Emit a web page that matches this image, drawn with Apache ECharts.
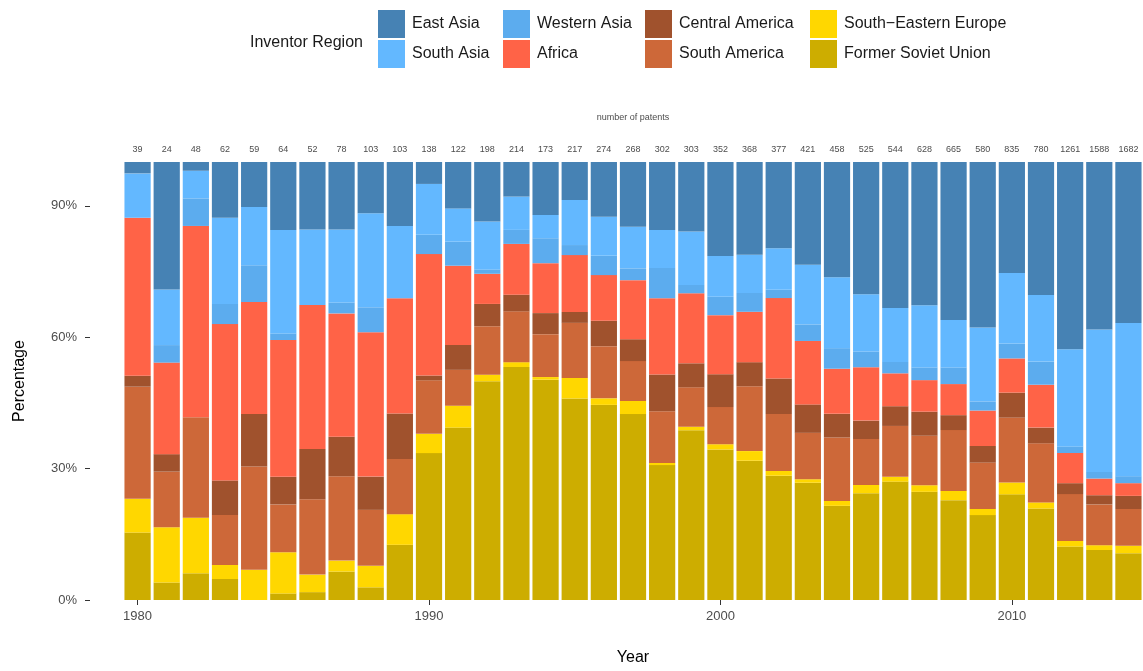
<!DOCTYPE html>
<html>
<head>
<meta charset="utf-8">
<script src="https://cdn.jsdelivr.net/npm/echarts@6/dist/echarts.min.js"></script>
<style>
html,body{margin:0;padding:0;background:#fff;}
#chart{width:1143px;height:671px;}
</style>
</head>
<body>
<div id="chart"></div>
<script>
// ---- data (percent of patents per inventor region) ----
const years = [1980,1981,1982,1983,1984,1985,1986,1987,1988,1989,1990,1991,1992,1993,1994,1995,1996,1997,1998,1999,2000,2001,2002,2003,2004,2005,2006,2007,2008,2009,2010,2011,2012,2013,2014];
const patentCounts = [39,24,48,62,59,64,52,78,103,103,138,122,198,214,173,217,274,268,302,303,352,368,377,421,458,525,544,628,665,580,835,780,1261,1588,1682];

const eastAsia = [2.6,29.1,2.0,12.7,10.3,15.5,15.4,15.4,11.7,14.6,5.0,10.6,13.6,7.9,12.1,8.7,12.5,14.8,15.5,15.9,21.5,21.2,19.7,23.5,26.3,30.2,33.3,32.7,36.1,37.8,25.3,30.4,42.8,38.2,36.8];
const southAsia = [10.1,12.7,6.3,19.7,13.3,23.6,17.3,16.7,21.5,16.5,11.6,7.6,11.0,7.6,5.3,10.3,8.9,9.5,8.7,12.2,9.3,8.7,9.5,13.6,16.2,13.1,12.3,14.2,10.8,16.9,16.1,15.2,22.2,32.5,35.0];
const westernAsia = [0,4.0,6.3,4.6,8.4,1.5,0,2.5,5.7,0,4.4,5.5,1.0,3.2,5.7,2.3,4.4,2.7,6.9,1.9,4.2,4.3,1.9,3.8,4.7,3.6,2.6,2.9,3.8,2.1,3.4,5.3,1.5,1.5,1.6];
const africa = [36.1,20.9,43.7,35.7,25.6,31.2,32.9,28.2,33.0,26.3,27.7,18.1,6.9,11.6,11.4,13.0,10.4,13.5,17.4,16.0,13.5,11.5,18.4,14.5,10.3,12.2,7.5,7.2,7.1,8.1,7.8,9.8,6.9,3.8,2.9];
const centralAmerica = [2.5,4.0,0,7.9,12.0,6.3,11.5,9.0,7.6,10.4,1.1,5.7,5.1,3.8,4.8,2.5,5.8,5.0,8.4,5.5,7.5,5.5,8.1,6.5,5.4,4.2,4.5,5.5,3.4,3.8,5.7,3.6,2.5,2.1,3.0];
const southAmerica = [25.6,12.7,22.9,11.4,23.6,10.9,17.2,19.3,12.8,12.6,12.2,8.2,11.1,11.6,9.8,12.6,11.9,9.1,11.8,9.0,8.5,14.8,13.0,10.6,14.5,10.5,11.6,11.3,13.9,10.6,14.8,13.5,10.7,9.3,8.4];
const southEasternEurope = [7.7,12.6,12.7,3.2,6.9,9.4,4.0,2.5,4.9,7.0,4.4,5.0,1.5,1.1,0.6,4.7,1.5,3.0,0.5,0.8,1.2,2.2,1.1,0.8,1.1,1.9,1.1,1.5,2.1,1.4,2.7,1.4,1.3,1.1,1.7];
const formerSovietUnion = [15.4,4.0,6.1,4.8,0,1.5,1.8,6.5,2.9,12.6,33.5,39.4,50.1,53.2,50.3,46.1,44.5,42.5,30.8,38.8,34.4,31.8,28.4,26.8,21.5,24.4,27.0,24.7,22.8,19.4,24.1,20.9,12.2,11.4,10.7];

const yTicks = [0,30,60,90];

// ---- build ----
// stacking order: bottom first
const regions = [
  {name:'Former Soviet Union', data:formerSovietUnion, color:'#cdad00'},
  {name:'South\u2212Eastern Europe', data:southEasternEurope, color:'#ffd700'},
  {name:'South America', data:southAmerica, color:'#cd6839'},
  {name:'Central America', data:centralAmerica, color:'#a0522d'},
  {name:'Africa', data:africa, color:'#ff6347'},
  {name:'Western Asia', data:westernAsia, color:'#5cacee'},
  {name:'South Asia', data:southAsia, color:'#63b8ff'},
  {name:'East Asia', data:eastAsia, color:'#4682b4'}
];
const totals = years.map((y,i)=>regions.reduce((s,r)=>s+r.data[i],0));

const FONT = '"Liberation Sans", Arial, Helvetica, sans-serif';
const chart = echarts.init(document.getElementById('chart'), null, {renderer:'canvas'});

function legendCol(left, names){
  return {
    orient:'vertical', left:left, top:10, padding:0,
    itemWidth:27, itemHeight:28, itemGap:2,
    icon:'rect',
    selectedMode:false,
    textStyle:{fontFamily:FONT, fontSize:16, color:'#1a1a1a', padding:[0,0,0,2]},
    data:names
  };
}

const option = {
  animation:false,
  backgroundColor:'#ffffff',
  textStyle:{fontFamily:FONT},
  title:{
    text:'Inventor Region', left:250, top:35, padding:0,
    textStyle:{fontFamily:FONT, fontSize:16, fontWeight:'normal', color:'#1a1a1a'}
  },
  legend:[
    legendCol(378, ['East Asia','South Asia']),
    legendCol(503, ['Western Asia','Africa']),
    legendCol(645, ['Central America','South America']),
    legendCol(810, ['South\u2212Eastern Europe','Former Soviet Union'])
  ],
  grid:{left:123, right:0, top:162, bottom:71, containLabel:false},
  xAxis:[
    {
      type:'category', data:years.map(String), position:'bottom',
      name:'Year', nameLocation:'middle', nameGap:50,
      nameTextStyle:{fontFamily:FONT, fontSize:16, color:'#000'},
      axisLine:{show:false},
      axisTick:{show:true, alignWithLabel:true, length:5, lineStyle:{color:'#333', width:1},
        interval:(i,v)=>Number(v)%10===0},
      axisLabel:{color:'#4d4d4d', fontSize:13, margin:10,
        interval:(i,v)=>Number(v)%10===0},
      splitLine:{show:false}
    },
    {
      type:'category', data:patentCounts.map(String), position:'top',
      name:'number of patents', nameLocation:'middle', nameGap:40,
      nameTextStyle:{fontFamily:FONT, fontSize:9, color:'#4d4d4d'},
      axisLine:{show:false}, axisTick:{show:false},
      axisLabel:{color:'#4d4d4d', fontSize:9, margin:8, interval:0},
      splitLine:{show:false}
    }
  ],
  yAxis:{
    type:'value', min:0, max:100, offset:33,
    name:'Percentage', nameLocation:'middle', nameGap:62,
    nameTextStyle:{fontFamily:FONT, fontSize:16, color:'#000'},
    axisLine:{show:false},
    axisTick:{show:true, length:5, lineStyle:{color:'#333', width:1}, customValues:yTicks},
    axisLabel:{color:'#4d4d4d', fontSize:13, margin:13, formatter:'{value}%', customValues:yTicks},
    splitLine:{show:false}
  },
  series: regions.map(r=>({
    name:r.name, type:'bar', stack:'total', xAxisIndex:0,
    barCategoryGap:'10%',
    itemStyle:{color:r.color},
    emphasis:{disabled:true},
    data:r.data.map((v,i)=>v/totals[i]*100)
  }))
};
chart.setOption(option);
</script>
</body>
</html>
